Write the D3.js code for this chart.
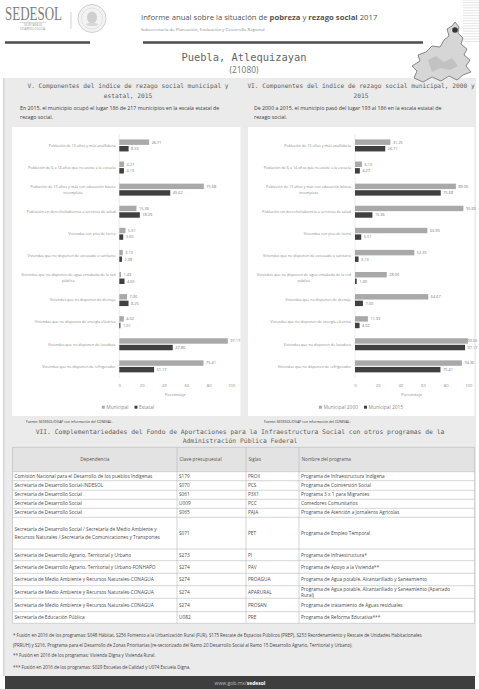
<!DOCTYPE html>
<html><head><meta charset="utf-8">
<script src="https://cdn.jsdelivr.net/npm/d3@7"></script>
<style>body{margin:0;background:#fff}svg{display:block}</style>
</head><body>
<script>
// ---------------- DATA ----------------
const categories = [
  "Población de 15 años y más analfabeta",
  "Población de 6 a 14 años que no asiste a la escuela",
  "Población de 15 años y más con educación básica\nincompleta",
  "Población sin derechohabiencia a servicios de salud",
  "Viviendas con piso de tierra",
  "Viviendas que no disponen de excusado o sanitario",
  "Viviendas que no disponen de agua entubada de la red\npública",
  "Viviendas que no disponen de drenaje",
  "Viviendas que no disponen de energía eléctrica",
  "Viviendas que no disponen de lavadora",
  "Viviendas que no disponen de refrigerador"
];
const municipal2015 = [26.71, 4.27, 75.68, 15.36, 5.51, 3.13, 1.49, 7.00, 4.02, 97.17, 75.41];
const estatal2015   = [8.33, 4.13, 45.62, 18.39, 3.50, 2.38, 4.65, 8.25, 1.01, 47.86, 31.17];
const municipal2000 = [31.25, 6.10, 89.05, 95.69, 63.90, 52.35, 28.00, 64.67, 11.39, 99.65, 94.36];
const xTicks = [0, 20, 40, 60, 80, 100];
const legendV = ["Municipal", "Estatal"];
const legendVI = ["Municipal 2000", "Municipal 2015"];

const dependencias = [
  "Comisión Nacional para el Desarrollo de los pueblos Indígenas",
  "Secretaría de Desarrollo Social-INDESOL",
  "Secretaría de Desarrollo Social",
  "Secretaría de Desarrollo Social",
  "Secretaría de Desarrollo Social",
  "Secretaría de Desarrollo Social / Secretaría de Medio Ambiente y\nRecursos Naturales / Secretaría de Comunicaciones y Transportes",
  "Secretaría de Desarrollo Agrario, Territorial y Urbano",
  "Secretaría de Desarrollo Agrario, Territorial y Urbano-FONHAPO",
  "Secretaría de Medio Ambiente y Recursos Naturales-CONAGUA",
  "Secretaría de Medio Ambiente y Recursos Naturales-CONAGUA",
  "Secretaría de Medio Ambiente y Recursos Naturales-CONAGUA",
  "Secretaría de Educación Pública"
];
const claves = ["S179","S070","S061","U009","S065","S071","S273","S274","S274","S274","S274","U082"];
const siglas = ["PROII","PCS","P3X1","PCC","PAJA","PET","PI","PAV","PROAGUA","APARURAL","PROSAN","PRE"];
const nombres = [
  "Programa de Infraestructura Indígena",
  "Programa de Coinversión Social",
  "Programa 3 x 1 para Migrantes",
  "Comedores Comunitarios",
  "Programa de Atención a Jornaleros Agrícolas",
  "Programa de Empleo Temporal",
  "Programa de Infraestructura*",
  "Programa de Apoyo a la Vivienda**",
  "Programa de Agua potable, Alcantarillado y Saneamiento",
  "Programa de Agua potable, Alcantarillado y Saneamiento (Apartado\nRural)",
  "Programa de tratamiento de Aguas residuales",
  "Programa de Reforma Educativa***"
];
const tableHeader = ["Dependencia", "Clave presupuestal", "Siglas", "Nombre del programa"];
const footnotes = [
  "* Fusión en 2016 de los programas: S048 Hábitat, S256 Fomento a la Urbanización Rural (FUR), S175 Rescate de Espacios Públicos (PREP), S253 Reordenamiento y Rescate de Unidades Habitacionales",
  "(PRRUH) y S216,  Programa para el Desarrollo de Zonas Prioritarias (re-sectorizado del Ramo 20 Desarrollo Social al Ramo 15 Desarrollo Agrario, Territorial y Urbano).",
  "** Fusión en 2016 de los programas: Vivienda Digna y Vivienda Rural.",
  "*** Fusión en 2016 de los programas: S029 Escuelas de Calidad y U074 Escuela Digna."
];

// ---------------- LAYOUT ----------------
const W = 479, H = 689;
const SANS = "'Open Sans','Noto Sans',sans-serif";
const MONO = "'DejaVu Sans Mono',monospace";
const C_LIGHT = "#a9a9a9", C_DARK = "#404040";
const rowHeights = [9, 9.6, 9, 9, 9, 31.7, 11.7, 12.6, 12.4, 12.6, 13.4, 11.6];
const colX = [12.5, 177, 246, 299, 474.5];

const svg = d3.select("body").append("svg").attr("width", W).attr("height", H)
  .attr("font-family", SANS);

svg.append("rect").attr("width", W).attr("height", H).attr("fill", "#fff");
svg.append("rect").attr("x", 4).attr("y", 78).attr("width", 472).attr("height", 598).attr("fill", "#ebebeb");
svg.append("rect").attr("x", 3).attr("y", 78).attr("width", 1.5).attr("height", 598).attr("fill", "#d6d6d6");

// ---------------- HEADER ----------------
const hd = svg.append("g");
hd.append("text").attr("x", 5).attr("y", 19.5).attr("font-family", "'Liberation Serif','DejaVu Serif',serif")
  .attr("font-size", 18).attr("textLength", 57).attr("lengthAdjust", "spacingAndGlyphs")
  .attr("fill", "#7d7d7d").text("SEDESOL");
hd.append("line").attr("x1", 20).attr("x2", 46).attr("y1", 22.5).attr("y2", 22.5).attr("stroke", "#aaa").attr("stroke-width", 0.4);
hd.append("text").attr("x", 33).attr("y", 26).attr("text-anchor", "middle").attr("font-size", 2.6).attr("fill", "#999").text("SECRETARÍA DE");
hd.append("text").attr("x", 33).attr("y", 29.5).attr("text-anchor", "middle").attr("font-size", 2.6).attr("fill", "#999").text("DESARROLLO SOCIAL");
hd.append("line").attr("x1", 71).attr("x2", 71).attr("y1", 12).attr("y2", 29).attr("stroke", "#c8c8c8").attr("stroke-width", 0.8);
hd.append("circle").attr("cx", 92).attr("cy", 18.5).attr("r", 14).attr("fill", "#f3f3f3").attr("stroke", "#c4c4c4").attr("stroke-width", 0.8);
hd.append("circle").attr("cx", 92).attr("cy", 18.5).attr("r", 10.5).attr("fill", "none").attr("stroke", "#d6d6d6").attr("stroke-width", 0.6);
hd.append("ellipse").attr("cx", 92).attr("cy", 17.5).attr("rx", 5).attr("ry", 6).attr("fill", "#cfcfcf");
hd.append("ellipse").attr("cx", 92).attr("cy", 24.5).attr("rx", 6).attr("ry", 1.6).attr("fill", "#d8d8d8");

const title = hd.append("text").attr("x", 141).attr("y", 19.5).attr("font-size", 7.7).attr("fill", "#555");
title.append("tspan").text("Informe anual sobre la situación de ");
title.append("tspan").attr("font-weight", "bold").text("pobreza");
title.append("tspan").text(" y ");
title.append("tspan").attr("font-weight", "bold").text("rezago social");
title.append("tspan").text(" 2017");
hd.append("text").attr("x", 141).attr("y", 30.8).attr("font-size", 4.3).attr("fill", "#8a8a8a")
  .text("Subsecretaría de Planeación, Evaluación y Desarrollo Regional");
hd.append("line").attr("x1", 5).attr("x2", 90).attr("y1", 42.5).attr("y2", 42.5).attr("stroke", "#4d4d4d").attr("stroke-width", 2.4);
hd.append("line").attr("x1", 143).attr("x2", 423).attr("y1", 42.5).attr("y2", 42.5).attr("stroke", "#4d4d4d").attr("stroke-width", 2.4);

// stripes top right
d3.range(0, 43, 2.6).forEach(y => {
  hd.append("line").attr("x1", 463).attr("x2", 479).attr("y1", y).attr("y2", y).attr("stroke", "#e2e2e2").attr("stroke-width", 0.9);
});
// state map silhouette (decoration)
const mapPts = [[455,22],[459,27],[458,33],[463,38],[461,44],[467,49],[464,55],[470,60],[466,66],[471,72],[463,75],[457,80],[449,76],[441,81],[432,77],[423,82],[414,78],[417,71],[412,66],[420,61],[418,55],[426,52],[432,46],[440,47],[444,40],[449,36],[447,29],[452,26]];
hd.append("path").attr("d", d3.line().curve(d3.curveLinearClosed)(mapPts))
  .attr("fill", "#d6d6d6").attr("stroke", "#6e6e6e").attr("stroke-width", 0.8);
hd.append("circle").attr("cx", 455).attr("cy", 30).attr("r", 2.8).attr("fill", "#333");
hd.append("path").attr("d", "M428,60 L436,56 L444,62 L452,58 L458,66 L450,70 L440,68 L432,72 Z").attr("fill", "#c2c2c2");

hd.append("text").attr("x", 244).attr("y", 60.5).attr("text-anchor", "middle").attr("font-family", MONO)
  .attr("font-size", 10.4).attr("fill", "#666").text("Puebla, Atlequizayan");
hd.append("text").attr("x", 244).attr("y", 72.5).attr("text-anchor", "middle")
  .attr("font-size", 8.4).attr("fill", "#777").text("(21080)");

// ---------------- PANELS ----------------
function panelTitle(lines, cx) {
  lines.forEach((t, i) => svg.append("text").attr("x", cx).attr("y", 87.5 + i * 10)
    .attr("text-anchor", "middle").attr("font-family", MONO).attr("font-size", 6.2).attr("fill", "#5e5e5e").text(t));
}
function panelDesc(lines, x) {
  lines.forEach((t, i) => svg.append("text").attr("x", x).attr("y", 110 + i * 9.3)
    .attr("font-size", 5.25).attr("fill", "#3a3a3a").text(t));
}
panelTitle(["V. Componentes del índice de rezago social municipal y", "estatal, 2015"], 128);
panelTitle(["VI. Componentes del índice de rezago social municipal, 2000 y", "2015"], 361);
panelDesc(["En 2015, el municipio ocupó el lugar 186 de 217 municipios en la escala estatal de", "rezago social."], 20);
panelDesc(["De 2000 a 2015, el municipio pasó del lugar 193 al 186 en la escala estatal de", "rezago social."], 254);

svg.append("rect").attr("x", 12).attr("y", 127).attr("width", 228.5).attr("height", 289).attr("fill", "#fff");
svg.append("rect").attr("x", 248).attr("y", 127).attr("width", 226.5).attr("height", 289).attr("fill", "#fff");

function drawChart(cfg) {
  const g = svg.append("g");
  const x = d3.scaleLinear().domain([0, 100]).range([cfg.x0, cfg.x100]);
  const y = d3.scaleBand().domain(categories).range([134.4, 377.4]);
  const yi = d3.scaleBand().domain([0, 1]).range([-6, 6]).paddingInner(0.17);
  const series = [cfg.a, cfg.b];
  const colors = [C_LIGHT, C_DARK];

  g.append("line").attr("x1", x(0)).attr("x2", x(0)).attr("y1", 134).attr("y2", 378)
    .attr("stroke", "#d9d9d9").attr("stroke-width", 0.5);

  categories.forEach(c => {
    const lines = c.split("\n");
    const cy = y(c) + y.bandwidth() / 2;
    const t0 = g.append("text").attr("x", cfg.labelRight).attr("text-anchor", "end")
      .attr("y", cy + (lines.length > 1 ? -3 : 0) + 1.3)
      .attr("font-size", 3.7).attr("fill", "#8a8a8a").text(lines[0]);
    if (lines.length > 1) {
      const w = t0.node().getComputedTextLength();
      g.append("text").attr("x", cfg.labelRight - w / 2).attr("text-anchor", "middle")
        .attr("y", cy + 3 + 1.3).attr("font-size", 3.7).attr("fill", "#8a8a8a").text(lines[1]);
    }
  });

  series.forEach((vals, si) => {
    g.selectAll(null).data(vals).enter().append("rect")
      .attr("x", x(0))
      .attr("y", (d, i) => y(categories[i]) + y.bandwidth() / 2 + yi(si))
      .attr("width", d => x(d) - x(0))
      .attr("height", yi.bandwidth())
      .attr("fill", colors[si]);
    g.selectAll(null).data(vals).enter().append("text")
      .attr("y", (d, i) => y(categories[i]) + y.bandwidth() / 2 + yi(si) + yi.bandwidth() / 2 + 1.4)
      .attr("font-size", 3.9).attr("fill", "#777")
      .text(d => d.toFixed(2))
      .attr("x", function (d) {
        const w = this.getComputedTextLength();
        return Math.min(x(d) + 2.5, W - 1.5 - w);
      });
  });

  const ax = g.append("g").attr("transform", "translate(0,386.6)")
    .call(d3.axisBottom(x).tickValues(xTicks).tickSize(0).tickPadding(0).tickFormat(d3.format("d")));
  ax.select(".domain").remove();
  ax.selectAll("text").attr("dy", null).attr("y", 0).attr("font-size", 4.2).attr("fill", "#8a8a8a").attr("font-family", SANS);
  g.append("text").attr("x", (cfg.x0 + cfg.x100) / 2).attr("y", 395.8).attr("text-anchor", "middle")
    .attr("font-size", 4.2).attr("fill", "#8a8a8a").text("Porcentaje");

  const lg = g.append("g");
  let cx = 0;
  cfg.legend.forEach((name, i) => {
    lg.append("rect").attr("x", cx).attr("y", -2.9).attr("width", 3).attr("height", 3).attr("fill", colors[i]);
    const t = lg.append("text").attr("x", cx + 4.5).attr("y", 0).attr("font-size", 4.9).attr("fill", "#8a8a8a").text(name);
    cx += 4.5 + t.node().getComputedTextLength() + 6;
  });
  const lw = cx - 6;
  lg.attr("transform", `translate(${cfg.legendCx - lw / 2},408.6)`);

  svg.append("text").attr("x", cfg.srcX).attr("y", 423).attr("font-size", 3.4).attr("fill", "#333")
    .text("Fuente: SEDESOL/DGAP con información del CONEVAL.");
}

drawChart({ a: municipal2015, b: estatal2015, x0: 119.3, x100: 231, labelRight: 115.5, legend: legendV, legendCx: 128, srcX: 26 });
drawChart({ a: municipal2000, b: municipal2015, x0: 355, x100: 468.3, labelRight: 351, legend: legendVI, legendCx: 361, srcX: 264 });

// ---------------- SECTION VII ----------------
svg.append("text").attr("x", 240).attr("y", 433.8).attr("text-anchor", "middle").attr("font-family", MONO)
  .attr("font-size", 6.35).attr("fill", "#5e5e5e")
  .text("VII. Complementariedades del Fondo de Aportaciones para la Infraestructura Social con otros programas de la");
svg.append("text").attr("x", 240).attr("y", 443.3).attr("text-anchor", "middle").attr("font-family", MONO)
  .attr("font-size", 6.35).attr("fill", "#5e5e5e").text("Administración Pública Federal");

const tg = svg.append("g");
const tTop = 447.3, headH = 24.4;
const fs = 4.75;
tg.append("rect").attr("x", colX[0]).attr("y", tTop).attr("width", colX[4] - colX[0]).attr("height", headH).attr("fill", "#e3e3e3");
tableHeader.forEach((h, i) => {
  const cxh = i === 0 ? (colX[0] + colX[1]) / 2 : colX[i] + 2.5;
  tg.append("text").attr("x", cxh).attr("y", tTop + headH / 2 + fs * 0.35)
    .attr("text-anchor", i === 0 ? "middle" : "start").attr("font-size", fs).attr("fill", "#555").text(h);
});
let yy = tTop + headH;
const rowsTop = [];
rowHeights.forEach(h => { rowsTop.push(yy); yy += h; });
const tableBottom = yy;
tg.append("rect").attr("x", colX[0]).attr("y", tTop + headH).attr("width", colX[4] - colX[0])
  .attr("height", tableBottom - tTop - headH).attr("fill", "#fff");
const cols = [dependencias, claves, siglas, nombres];
rowHeights.forEach((h, r) => {
  const cy = rowsTop[r] + h / 2;
  cols.forEach((arr, c) => {
    const lines = arr[r].split("\n");
    const gap = Math.min(8.5, (h - 1) / 2);
    lines.forEach((ln, k) => {
      tg.append("text").attr("x", colX[c] + 2).attr("y", cy + (k - (lines.length - 1) / 2) * gap + fs * 0.35)
        .attr("font-size", fs).attr("fill", "#4a4a4a").text(ln);
    });
  });
});
[tTop, tTop + headH, ...rowsTop.slice(1), tableBottom].forEach(y => {
  tg.append("line").attr("x1", colX[0]).attr("x2", colX[4]).attr("y1", y).attr("y2", y)
    .attr("stroke", "#b9b9b9").attr("stroke-width", 0.6);
});
colX.forEach(x => {
  tg.append("line").attr("x1", x).attr("x2", x).attr("y1", tTop).attr("y2", tableBottom)
    .attr("stroke", "#b9b9b9").attr("stroke-width", 0.6);
});

const fnY = [636.5, 646.5, 657.3, 669.3];
footnotes.forEach((t, i) => svg.append("text").attr("x", 13).attr("y", fnY[i]).attr("font-size", 4.45)
  .attr("fill", "#444").text(t));

svg.append("rect").attr("x", 5).attr("y", 676).attr("width", 470).attr("height", 13).attr("fill", "#3e3e3e");
const ft = svg.append("text").attr("x", 240).attr("y", 684.5).attr("text-anchor", "middle").attr("font-size", 5).attr("fill", "#bdbdbd");
ft.append("tspan").text("www.gob.mx/");
ft.append("tspan").attr("font-weight", "bold").attr("fill", "#fff").text("sedesol");
</script>
</body></html>
